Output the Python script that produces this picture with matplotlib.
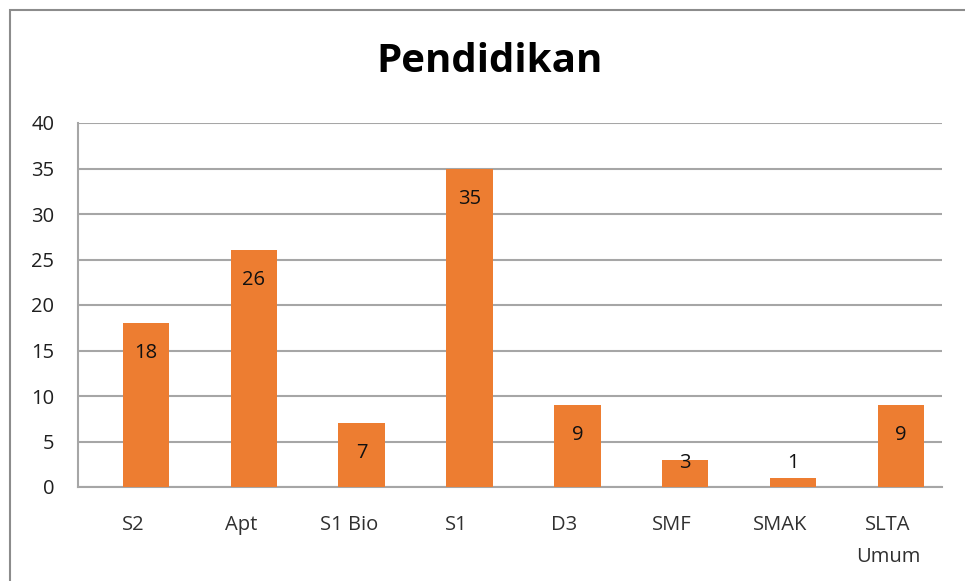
import matplotlib
matplotlib.use("Agg")
import matplotlib.pyplot as plt
from matplotlib.patches import Rectangle
from matplotlib.transforms import ScaledTranslation

categories = ["S2", "Apt", "S1 Bio", "S1", "D3", "SMF", "SMAK", "SLTA\nUmum"]
values = [18, 26, 7, 35, 9, 3, 1, 9]
yticks = [0, 5, 10, 15, 20, 25, 30, 35, 40]
title = "Pendidikan"

plt.rcParams['font.family'] = ['Open Sans', 'DejaVu Sans']

W, H = 965, 581
fig = plt.figure(figsize=(W / 100, H / 100), dpi=100)

# outer chart border (Excel-style)
fig.patches.append(Rectangle((10 / W, -0.1), 1.2, 1 - 10 / H + 0.1,
                             transform=fig.transFigure, fill=False,
                             edgecolor="#8c8c8c", linewidth=1.5))

left, right, top, bottom = 78, 942, 123, 487
ax = fig.add_axes([left / W, 1 - bottom / H, (right - left) / W, (bottom - top) / H])

x = list(range(len(categories)))
ax.bar(x, values, width=0.43, color="#ED7D31", zorder=3)

ax.set_ylim(0, 40)
ax.set_xlim(-0.63, 7.38)
ax.set_yticks(yticks)
ax.set_xticks(x)
ax.set_xticklabels(categories, fontsize=14.5, color="#303030", linespacing=1.8,
                   fontweight="medium")
for lbl in ax.get_yticklabels():
    lbl.set_fontweight("medium")
ax.tick_params(axis="y", labelsize=14.5, colors="#1f1f1f", length=0, pad=17)
ax.tick_params(axis="x", length=0, pad=20)
off = ScaledTranslation(-13 / 100, 0, fig.dpi_scale_trans)
for lbl in ax.get_xticklabels():
    lbl.set_transform(lbl.get_transform() + off)
ax.grid(axis="y", color="#a6a6a6", linewidth=1.5, zorder=0)
for s in ["top", "right"]:
    ax.spines[s].set_visible(False)
for s in ["left", "bottom"]:
    ax.spines[s].set_color("#a6a6a6")
    ax.spines[s].set_linewidth(1.5)

for xi, v in zip(x, values):
    ax.text(xi, max(v - 3.3, 2.65), str(v), ha="center", va="center",
            fontsize=14.5, color="#111111", zorder=4, fontweight="medium")

fig.text(490 / W, 1 - 62 / H, title, ha="center", va="center",
         fontsize=29, fontweight="bold", color="black")

fig.savefig("out.png", dpi=100, facecolor="white")
